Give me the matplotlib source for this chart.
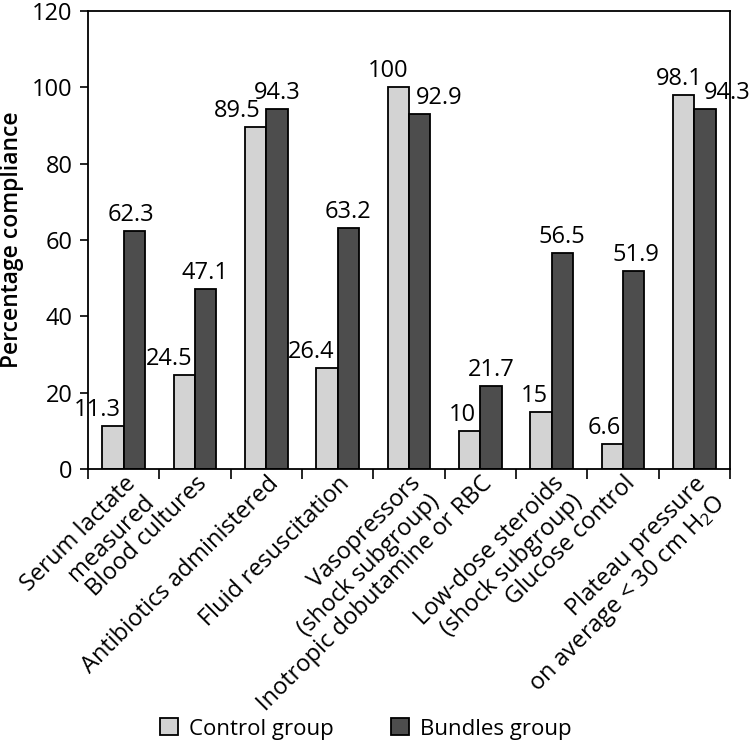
import matplotlib
matplotlib.use("Agg")
import matplotlib.pyplot as plt
import numpy as np

plt.rcParams['font.family'] = ['Open Sans', 'DejaVu Sans']
plt.rcParams['mathtext.fontset'] = 'custom'
plt.rcParams['mathtext.rm'] = 'Open Sans'
plt.rcParams['mathtext.it'] = 'Open Sans'

categories = [
    "Serum lactate\nmeasured",
    "Blood cultures",
    "Antibiotics administered",
    "Fluid resuscitation",
    "Vasopressors\n(shock subgroup)",
    "Inotropic dobutamine or RBC",
    "Low-dose steroids\n(shock subgroup)",
    "Glucose control",
    "Plateau pressure\non average < 30 cm H$_2$O",
]
control = [11.3, 24.5, 89.5, 26.4, 100, 10, 15, 6.6, 98.1]
bundles = [62.3, 47.1, 94.3, 63.2, 92.9, 21.7, 56.5, 51.9, 94.3]
control_labels = ["11.3", "24.5", "89.5", "26.4", "100", "10", "15", "6.6", "98.1"]
bundles_labels = ["62.3", "47.1", "94.3", "63.2", "92.9", "21.7", "56.5", "51.9", "94.3"]

# label nudges (pixels) where the original shifted labels to avoid overlap
control_dx = [-3, -2, -6, -3, -1, -4, -4, -2, 8]
bundles_dx = [-3, -1, 0, 0, 20, 0, 0, 2, 22]

fig = plt.figure(figsize=(7.5, 7.43), dpi=100)
ax = fig.add_axes([0.1173, 0.3688, 0.856, 0.6164])

x = np.arange(len(categories))
w = 0.3
b1 = ax.bar(x - w / 2, control, w, color='#d3d3d3', edgecolor='black', linewidth=1.3, label='Control group')
b2 = ax.bar(x + w / 2, bundles, w, color='#4d4d4d', edgecolor='black', linewidth=1.3, label='Bundles group')

for i in range(len(categories)):
    ax.annotate(control_labels[i], (x[i], control[i]), xytext=(control_dx[i], 4),
                textcoords='offset pixels', ha='right', va='bottom', fontsize=17)
    ax.annotate(bundles_labels[i], (x[i] + w / 2, bundles[i]), xytext=(bundles_dx[i], 4),
                textcoords='offset pixels', ha='center', va='bottom', fontsize=17)

ax.set_xlim(-0.5, len(categories) - 0.5)
ax.set_ylim(0, 120)
ax.set_yticks([0, 20, 40, 60, 80, 100, 120])
ax.tick_params(axis='y', direction='out', length=6, width=1.2, pad=5, labelsize=17)

ax.set_xticks(x)
ax.set_xticklabels(categories, rotation=45, ha='right', va='top', rotation_mode='anchor',
                   fontsize=17, linespacing=1.1)
ax.tick_params(axis='x', which='major', length=0, pad=2)
ax.set_xticks(np.arange(len(categories) + 1) - 0.5, minor=True)
ax.tick_params(axis='x', which='minor', direction='out', length=7, width=1.2)

for s in ax.spines.values():
    s.set_linewidth(1.3)

ax.set_ylabel('Percentage compliance', fontsize=16.5, fontweight='semibold', labelpad=6)

fig.legend(handles=[b1, b2], loc='center', bbox_to_anchor=(366 / 750, 1 - 729 / 743), ncol=2,
           frameon=False, fontsize=16, handlelength=0.8, handleheight=0.8,
           handletextpad=0.5, columnspacing=2.6)

fig.savefig('out.png', dpi=100)
